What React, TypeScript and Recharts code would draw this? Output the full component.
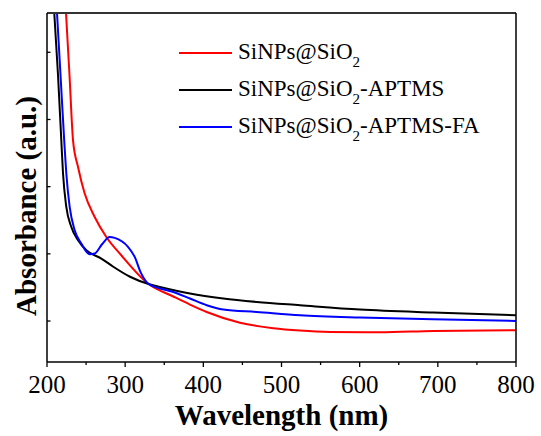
import React from "react";
import { LineChart, Line, XAxis, YAxis } from "recharts";

const SERIF = "Liberation Serif, Tinos, Times New Roman, Times, DejaVu Serif, serif";

// wavelength (nm) / absorbance (a.u.)
const siWl = [224.3, 228.8, 233.3, 239.7, 248.2, 261.0, 275.9, 295.0, 330, 361.6, 382.9, 404.3, 446.9, 489.5, 523.7, 562, 626, 693.8, 800];
const siAbs = [5.585, 4.658, 3.69, 3.293, 2.897, 2.549, 2.251, 1.979, 1.55, 1.365, 1.245, 1.135, 0.975, 0.893, 0.858, 0.838, 0.833, 0.853, 0.863];

const aptmsWl = [209.3, 214.1, 218.3, 220.5, 224.7, 231.1, 239.7, 250.3, 269.5, 284.8, 306.2, 330, 344.6, 382.9, 425.5, 468.3, 523.7, 600.4, 693.8, 800];
const aptmsAbs = [5.585, 4.658, 3.69, 3.195, 2.698, 2.4, 2.202, 2.054, 1.93, 1.808, 1.659, 1.55, 1.507, 1.409, 1.335, 1.284, 1.235, 1.171, 1.126, 1.086];

const faWl = [212.8, 217.3, 222.0, 224.7, 229.0, 235.4, 243.9, 254.6, 261.0, 270.4, 280.2, 286.6, 303.6, 312.2, 320, 330, 344.6, 361.6, 382.9, 404.3, 425.5, 468.3, 523.7, 600.4, 693.8, 800];
const faAbs = [5.585, 4.658, 3.69, 3.195, 2.698, 2.351, 2.153, 1.994, 2.004, 2.143, 2.251, 2.237, 2.103, 1.954, 1.72, 1.55, 1.484, 1.433, 1.335, 1.235, 1.171, 1.135, 1.086, 1.052, 1.027, 1.001];

const xTicks = [200, 250, 300, 350, 400, 450, 500, 550, 600, 650, 700, 750, 800];
const yTicks = [1, 2, 3, 4, 5];

const toPoints = (wl: number[], abs: number[]) => wl.map((w, i) => ({ wl: w, abs: abs[i] }));

const series = [
  { name: "SiNPs@SiO2", suffix: "", color: "#ff0000", data: toPoints(siWl, siAbs) },
  { name: "SiNPs@SiO2-APTMS", suffix: "-APTMS", color: "#000000", data: toPoints(aptmsWl, aptmsAbs) },
  { name: "SiNPs@SiO2-APTMS-FA", suffix: "-APTMS-FA", color: "#0000ff", data: toPoints(faWl, faAbs) },
];

const XTick = ({ x, y, payload }: any) => {
  const major = payload.value % 100 === 0;
  return (
    <g>
      <line x1={x} x2={x} y1={y} y2={y + (major ? 5 : 3)} stroke="#000" strokeWidth={1.3} />
      {major && (
        <text x={x} y={y + 31} textAnchor="middle" fontSize={25} fontFamily={SERIF} fill="#000">
          {payload.value}
        </text>
      )}
    </g>
  );
};

const YTick = ({ x, y }: any) => (
  <line x1={x} x2={x + 3.5} y1={y} y2={y} stroke="#000" strokeWidth={1.3} />
);

const LegendBox = () => (
  <div style={{ position: "absolute", left: 179, top: 34, fontFamily: SERIF, fontSize: 23, color: "#000" }}>
    {series.map((s) => (
      <div key={s.name} style={{ display: "flex", alignItems: "center", height: 37 }}>
        <span style={{ display: "inline-block", width: 53, height: 2, background: s.color, marginRight: 6 }} />
        <span style={{ whiteSpace: "nowrap", lineHeight: "23px" }}>
          SiNPs@SiO
          <span style={{ fontSize: 15, position: "relative", top: 8 }}>2</span>
          {s.suffix}
        </span>
      </div>
    ))}
  </div>
);

export default function App() {
  return (
    <div style={{ position: "absolute", left: 0, top: 0, width: 541, height: 436, background: "#fff" }}>
      <LineChart width={541} height={436} margin={{ top: 12, right: 24, bottom: 73, left: 46 }}>
        <XAxis
          xAxisId="b"
          dataKey="wl"
          type="number"
          domain={[200, 800]}
          ticks={xTicks}
          allowDataOverflow
          height={1}
          tickSize={0}
          tickMargin={0}
          tickLine={false}
          tick={<XTick />}
          axisLine={{ stroke: "#000", strokeWidth: 1.5 }}
          label={{
            content: () => (
              <text x={281.5} y={425} textAnchor="middle" fontSize={29} fontWeight="bold" fontFamily={SERIF} fill="#000">
                Wavelength (nm)
              </text>
            ),
          }}
        />
        <XAxis
          xAxisId="t"
          orientation="top"
          type="number"
          domain={[200, 800]}
          height={1}
          tick={false}
          tickLine={false}
          axisLine={{ stroke: "#333", strokeWidth: 2 }}
        />
        <YAxis
          yAxisId="l"
          type="number"
          domain={[0.39, 5.585]}
          ticks={yTicks}
          allowDataOverflow
          width={1}
          tickSize={0}
          tickMargin={0}
          tickLine={false}
          tick={<YTick />}
          axisLine={{ stroke: "#000", strokeWidth: 1.5 }}
          label={{
            content: () => (
              <text
                x={36}
                y={206}
                transform="rotate(-90 36 206)"
                textAnchor="middle"
                fontSize={29}
                fontWeight="bold"
                fontFamily={SERIF}
                fill="#000"
              >
                Absorbance (a.u.)
              </text>
            ),
          }}
        />
        <YAxis
          yAxisId="r"
          orientation="right"
          type="number"
          domain={[0.39, 5.585]}
          width={1}
          tick={false}
          tickLine={false}
          axisLine={{ stroke: "#000", strokeWidth: 1.5 }}
        />
        {series.map((s) => (
          <Line
            key={s.name}
            xAxisId="b"
            yAxisId="l"
            data={s.data}
            dataKey="abs"
            name={s.name}
            type="monotone"
            stroke={s.color}
            strokeWidth={2}
            dot={false}
            activeDot={false}
            isAnimationActive={false}
          />
        ))}
      </LineChart>
      <LegendBox />
    </div>
  );
}
